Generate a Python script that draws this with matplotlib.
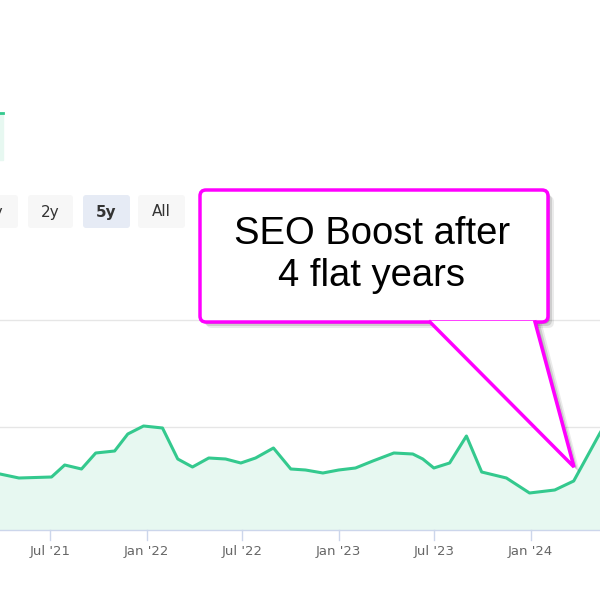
import matplotlib
matplotlib.use("Agg")
import matplotlib.pyplot as plt
from matplotlib.patches import FancyBboxPatch, Polygon, Rectangle
import numpy as np

dates = ["2021-03-28","2021-05-03","2021-07-04","2021-07-29","2021-08-30","2021-09-26",
         "2021-11-01","2021-11-26","2021-12-26","2022-01-31","2022-03-01","2022-03-29",
         "2022-04-29","2022-05-31","2022-06-29","2022-07-27","2022-08-30","2022-10-02",
         "2022-10-30","2022-12-02","2023-01-01","2023-02-02","2023-03-07","2023-04-16",
         "2023-05-22","2023-06-10","2023-07-01","2023-07-31","2023-09-01","2023-09-30",
         "2023-11-16","2023-12-30","2024-02-16","2024-03-23","2024-05-11","2024-06-18"]
values = [56, 52, 53, 65, 61, 77, 79, 96, 104, 102, 71, 63, 72, 71, 67, 72, 82, 61,
          60, 57, 60, 62, 69, 77, 76, 71, 62, 67, 94, 58, 52, 37, 40, 49, 96, 130]
tick_dates = ["2021-07-01","2022-01-01","2022-07-01","2023-01-01","2023-07-01","2024-01-01"]
tick_labels = ["Jul '21","Jan '22","Jul '22","Jan '23","Jul '23","Jan '24"]
buttons = ["1y", "2y", "5y", "All"]
callout = "SEO Boost after\n4 flat years"

x = [np.datetime64(d) for d in dates]
fig = plt.figure(figsize=(6, 6), dpi=100)
ax = fig.add_axes([0, 0, 1, 1])
ax.set_xlim(np.datetime64("2021-03-28"), np.datetime64("2024-05-12"))
ax.set_ylim(-70, 530)
ax.axis("off")
for g in (103, 210):
    ax.axhline(g, color="#e6e6e6", lw=1, zorder=1)
ax.fill_between(x, values, 0, color="#e7f8f1", zorder=2)
ax.plot(x, values, color="#34c98e", lw=2.2, zorder=3, solid_joinstyle="round")
ax.axhline(0, color="#ccd6eb", lw=1, zorder=3)
for td, tl in zip(tick_dates, tick_labels):
    t = np.datetime64(td)
    ax.plot([t, t], [0, -10], color="#ccd6eb", lw=1, zorder=3)
    ax.text(t, -21, tl, ha="center", va="center", fontsize=9.5, color="#666666")

ov = fig.add_axes([0, 0, 1, 1], zorder=5)
ov.set_xlim(0, 600); ov.set_ylim(600, 0); ov.axis("off"); ov.patch.set_alpha(0)
ov.add_patch(Rectangle((-2, 113), 5, 47, color="#e7f8f1"))
ov.plot([-2, 3], [113, 113], color="#34c98e", lw=2)
bx = [(-30, 18), (28, 73), (83, 130), (138, 185)]
for (a, b), lab in zip(bx, buttons):
    sel = lab == "5y"
    ov.add_patch(FancyBboxPatch((a, 195), b - a, 33, boxstyle="round,pad=0,rounding_size=3",
                                fc="#e6ebf5" if sel else "#f7f7f7", ec="none"))
    ov.text((a + b) / 2, 212, lab, ha="center", va="center", fontsize=11,
            color="#333333", fontweight="bold" if sel else "normal")
tip = (574, 467)
for off, al in ((6, 0.08), (4, 0.12), (2, 0.15)):
    ov.add_patch(FancyBboxPatch((200 + off, 190 + off), 348, 132, boxstyle="round,pad=0,rounding_size=6",
                                fc="black", ec="none", alpha=al))
    ov.add_patch(Polygon([(430 + off, 320), (535 + off, 320), (tip[0] + off, tip[1] + off)],
                         fc="black", ec="none", alpha=al))
ov.add_patch(FancyBboxPatch((200, 190), 348, 132, boxstyle="round,pad=0,rounding_size=6",
                            fc="white", ec="#ff00ff", lw=2.5))
ov.add_patch(Polygon([(430, 321), (535, 321), tip], fc="white", ec="none"))
ov.plot([430, tip[0], 535], [322, tip[1], 322], color="#ff00ff", lw=2.5, solid_joinstyle="miter")
ov.text(372, 255, callout, ha="center", va="center", fontsize=27.5, color="black",
        family="Liberation Sans", linespacing=1.2)
fig.savefig("out.png", dpi=100)
